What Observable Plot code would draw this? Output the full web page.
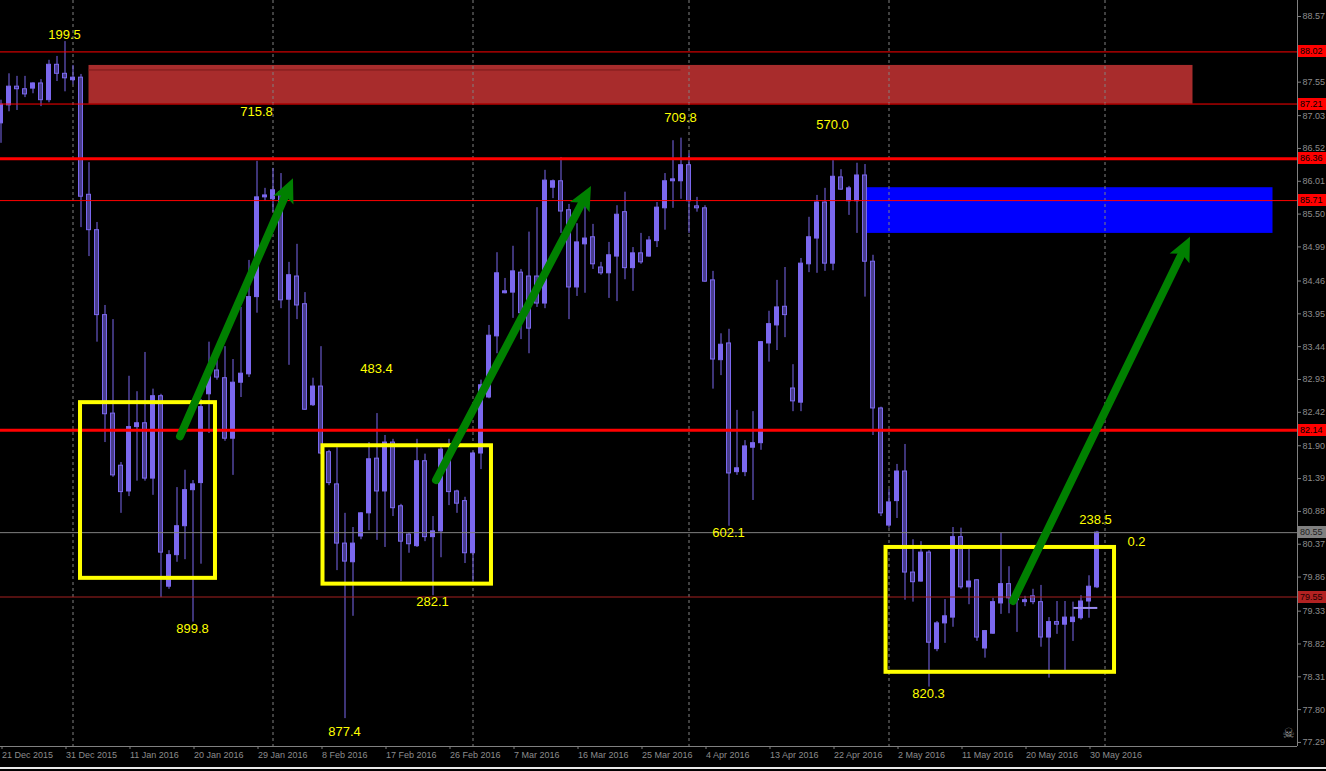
<!DOCTYPE html>
<html><head><meta charset="utf-8">
<script src="https://cdn.jsdelivr.net/npm/d3@7"></script>
<script src="https://cdn.jsdelivr.net/npm/@observablehq/plot@0.6"></script>
<style>
html,body{margin:0;padding:0;background:#000;overflow:hidden;}
#chart{width:1326px;height:766px;}
#edge{height:2px;background:#e8e8e8;margin-top:1px;}
</style></head><body>
<div id="chart"></div><div id="edge"></div>
<script>
// ---- Daily candles (bar index 0 = 21 Dec 2015) ----
const opens = [86.91,87.19,87.48,87.44,87.45,87.53,87.27,87.82,87.68,87.58,
87.62,85.80,85.25,83.93,82.40,81.59,81.19,82.19,82.25,81.39,
82.67,79.71,80.20,80.65,81.21,81.32,82.70,83.07,82.95,82.01,
82.88,83.01,84.21,85.76,85.73,85.84,84.17,84.53,84.10,82.53,
82.82,81.80,81.30,80.38,80.09,80.49,80.85,81.70,81.19,81.95,
80.96,80.52,80.34,81.66,80.48,80.57,81.75,81.19,81.04,80.23,
81.78,82.65,83.60,84.27,84.28,84.59,84.53,84.53,84.11,85.91,
86.01,85.56,84.36,85.03,85.14,84.67,84.58,84.84,85.53,84.66,
84.89,84.84,85.08,85.59,86.01,86.01,86.26,85.62,85.59,84.47,
83.23,83.49,81.49,81.49,81.87,81.94,83.49,83.77,84.06,82.79,
82.57,84.72,85.12,85.68,84.73,86.07,85.70,85.70,86.10,84.76,
82.48,80.66,81.04,81.50,79.93,79.79,80.24,78.74,79.14,79.23,
80.48,79.70,79.81,78.75,78.98,79.45,79.75,79.54,79.47,79.56,
79.47,78.92,79.16,79.12,79.16,79.22,79.48,79.70];
const highs = [87.27,87.68,87.64,87.64,87.54,87.59,87.89,87.95,88.18,87.81,
87.67,86.30,85.37,84.08,83.86,81.64,82.98,82.74,83.35,82.78,
82.70,80.27,81.25,81.52,81.36,82.62,83.51,83.23,83.44,83.24,
84.05,84.78,86.32,85.90,86.21,86.13,84.75,85.03,84.28,82.95,
83.44,81.83,81.87,80.85,80.63,80.86,81.95,82.40,82.06,82.00,
80.99,80.55,82.00,81.77,80.80,81.87,82.00,81.21,81.10,81.80,
82.92,83.77,84.90,84.50,85.00,84.64,85.22,85.60,86.18,86.03,
86.38,85.65,85.35,85.71,85.34,84.75,85.06,85.63,85.84,84.98,
85.20,85.15,85.68,86.13,86.64,86.68,86.44,85.76,85.63,84.61,
83.64,83.71,82.45,81.98,82.43,83.52,83.99,84.47,84.67,83.16,
84.81,85.45,85.79,85.90,86.33,86.19,85.93,86.29,86.27,84.86,
82.50,81.22,81.61,81.92,80.44,80.41,80.27,79.17,79.51,80.63,
80.62,80.29,79.82,79.03,79.53,80.54,80.02,79.65,79.56,79.67,
79.73,79.23,79.48,79.48,79.47,79.57,79.88,80.57];
const lows = [86.60,87.09,87.11,87.31,87.37,87.17,87.23,87.56,87.40,87.51,
85.29,84.84,83.51,81.95,81.41,80.85,81.11,81.35,81.35,81.13,
79.54,79.67,80.09,80.13,79.16,80.06,82.09,82.92,81.97,81.44,
82.65,82.96,83.96,85.70,85.53,84.03,83.15,83.86,82.45,82.51,
81.76,81.28,79.96,77.66,79.25,80.44,80.58,80.43,80.32,80.80,
79.79,80.23,80.32,80.41,79.57,80.16,80.97,80.85,80.07,79.78,
81.53,82.63,83.33,84.26,83.88,83.55,83.33,84.05,84.03,85.74,
85.20,83.86,84.22,84.27,84.64,84.55,84.19,84.14,84.48,84.30,
84.72,84.83,84.98,85.25,85.59,85.73,85.20,85.53,84.44,82.78,
82.99,80.65,81.44,81.42,81.05,81.83,83.20,83.38,83.58,82.43,
82.43,84.59,84.58,84.61,84.62,85.87,85.48,85.20,84.21,82.06,
80.80,80.62,80.77,79.50,79.47,79.78,78.15,78.70,78.83,79.08,
79.67,79.43,78.86,78.60,78.97,79.28,79.29,79.00,79.40,79.43,
78.77,78.29,78.97,78.41,78.86,79.19,79.22,79.68];
const closes = [87.20,87.48,87.44,87.36,87.53,87.27,87.82,87.68,87.61,87.62,
85.77,85.25,83.93,82.39,81.44,81.18,82.19,82.25,81.39,82.67,
80.24,80.20,80.65,81.21,81.30,82.50,83.07,82.96,82.01,82.88,
83.02,84.21,85.76,85.79,85.87,84.16,84.55,84.08,82.46,82.82,
81.78,81.32,80.38,80.10,80.38,80.85,81.69,81.19,81.95,80.93,
80.41,80.37,81.66,80.48,80.57,81.84,81.18,81.00,80.23,81.78,
82.84,83.61,84.58,84.30,84.61,83.96,83.72,84.11,86.02,86.01,
85.54,84.36,85.06,85.12,84.72,84.58,84.86,85.49,84.66,84.89,
84.75,85.09,85.60,86.01,86.04,86.26,85.70,85.59,84.45,83.24,
83.47,81.47,81.55,81.89,81.94,83.51,83.79,84.05,83.93,82.59,
84.73,85.14,85.68,84.73,86.08,85.88,85.90,86.10,84.76,82.48,
80.85,81.02,81.50,79.93,79.78,80.24,78.84,79.14,79.25,80.48,
79.70,79.79,78.92,79.02,79.47,79.75,79.53,79.50,79.50,79.47,
78.92,79.16,79.12,79.23,79.23,79.48,79.71,80.55];

// ---- Axis ticks ----
const dateBars = [0,8,16,24,32,40,48,56,64,72,80,88,96,104,112,120,128,136];
const dateLabels = ["21 Dec 2015","31 Dec 2015","11 Jan 2016","20 Jan 2016","29 Jan 2016","8 Feb 2016","17 Feb 2016","26 Feb 2016","7 Mar 2016","16 Mar 2016","25 Mar 2016","4 Apr 2016","13 Apr 2016","22 Apr 2016","2 May 2016","11 May 2016","20 May 2016","30 May 2016"];
const monthBars = [9,34,59,86,111,138];
const yTicks = [88.57,87.55,87.03,86.52,86.01,85.50,84.99,84.46,83.95,83.44,82.93,82.42,81.90,81.39,80.88,80.37,79.86,79.33,78.82,78.31,77.80,77.29];
const xDomain = [-0.0625, 162.0625];
const yDomain = [77.227, 88.819];

// ---- Horizontal levels ----
const redThinLevels = [88.02, 87.21, 85.71];
const redThickLevels = [86.36, 82.14];
const bidLevel = [80.55];
const supportLevel = [79.55];
const redTagLevels = [88.02, 87.21, 86.36, 85.71, 82.14];

// ---- Zones ----
const zoneName  = ["supply", "target"];
const zoneStart = [11, 108.2];
const zoneEnd   = [149, 159];
const zoneLow   = [87.21, 85.20];
const zoneHigh  = [87.81, 85.91];
const innerEdgeLevel = [87.74], innerEdgeFrom = [11], innerEdgeTo = [85];

// ---- Yellow boxes ----
const boxStart = [9.94, 40.25, 110.63];
const boxEnd   = [26.81, 61.31, 139.19];
const boxTop   = [82.57, 81.90, 80.32];
const boxBottom= [79.84, 79.75, 78.38];

// ---- Green arrows ----
const arrowFromBar = [22.44, 54.44, 126.56];
const arrowFromPrice = [82.04, 81.36, 79.48];
const arrowToBar = [36.56, 73.81, 148.69];
const arrowToPrice = [86.05, 85.93, 85.14];

// ---- Yellow notes ----
const noteText  = ["199.5","715.8","709.8","570.0","483.4","899.8","282.1","877.4","602.1","820.3","238.5","0.2"];
const noteBar   = [7.94,31.94,84.94,103.94,46.94,23.94,53.94,42.94,90.94,115.94,136.81,141.94];
const notePrice = [88.29,87.09,86.99,86.89,83.09,79.06,79.47,77.45,80.54,78.05,80.75,80.41];

// ---- Current price marker ----
const markerLevel = [79.38], markerFrom = [134.1], markerTo = [137.1];

const candles = opens.map((o, i) => ({i, o, h: highs[i], l: lows[i], c: closes[i]}));
const zones = zoneName.map((n, k) => ({n, x1: zoneStart[k], x2: zoneEnd[k], y1: zoneLow[k], y2: zoneHigh[k]}));
const boxes = boxStart.map((s, k) => ({x1: s, x2: boxEnd[k], y1: boxBottom[k], y2: boxTop[k]}));
const arrows = arrowFromBar.map((b, k) => ({x1: b, y1: arrowFromPrice[k], x2: arrowToBar[k], y2: arrowToPrice[k]}));
const notes = noteText.map((t, k) => ({t, x: noteBar[k], y: notePrice[k]}));

// price tags in the right margin, placed through the y scale
function tagMark(levels, bg, fg) {
  return (index, scales, values, dims) => {
    const g = d3.create("svg:g").attr("text-anchor", "start");
    const x0 = dims.width - dims.marginRight + 1;
    for (const v of levels) {
      const y = Math.round(scales.y(v));
      g.append("rect").attr("x", x0).attr("y", y - 6).attr("width", dims.marginRight).attr("height", 12).attr("fill", bg);
      g.append("text").attr("x", x0 + 2).attr("y", y).attr("dy", "0.35em")
        .attr("fill", fg).attr("font-size", 9).attr("text-anchor", "start").text(v.toFixed(2));
    }
    return g.node();
  };
}

// thick arrows with filled heads, placed through the x and y scales
function arrowMark(list, color) {
  return (index, scales) => {
    const g = d3.create("svg:g");
    for (const a of list) {
      const x1 = scales.x(a.x1), y1 = scales.y(a.y1), x2 = scales.x(a.x2), y2 = scales.y(a.y2);
      const dx = x2 - x1, dy = y2 - y1, len = Math.hypot(dx, dy), ux = dx / len, uy = dy / len;
      const hl = 24, hw = 11;
      const bx = x2 - ux * hl, by = y2 - uy * hl;
      g.append("line").attr("x1", x1).attr("y1", y1).attr("x2", bx + ux * 3).attr("y2", by + uy * 3)
        .attr("stroke", color).attr("stroke-width", 8).attr("stroke-linecap", "round");
      g.append("path").attr("d", `M${x2},${y2}L${bx - uy * hw},${by + ux * hw}L${bx + ux * 5},${by + uy * 5}L${bx + uy * hw},${by - ux * hw}Z`)
        .attr("fill", color);
    }
    return g.node();
  };
}

const FONT = "'Liberation Sans', Arial, sans-serif";
const purple = "#7b68ee";

const chart = Plot.plot({
  width: 1326, height: 766,
  marginTop: 0, marginBottom: 20, marginLeft: 0, marginRight: 29,
  x: {domain: xDomain, axis: null},
  y: {domain: yDomain, axis: null},
  style: {background: "#000", color: "#8c8c8c", fontFamily: FONT, fontSize: "9px"},
  marks: [
    Plot.rect(zones, {x1: "x1", x2: "x2", y1: "y1", y2: "y2", fill: d => d.n === "supply" ? "#a82c2c" : "#0000ff"}),
    Plot.ruleY(innerEdgeLevel, {x1: () => innerEdgeFrom[0], x2: () => innerEdgeTo[0], stroke: "#7a1a1a"}),
    Plot.ruleX(monthBars, {stroke: "#808080", strokeDasharray: "3,3"}),
    Plot.ruleX(candles, {x: "i", y1: "l", y2: "h", stroke: purple}),
    Plot.rect(candles, {
      x1: d => d.i - 0.25, x2: d => d.i + 0.25,
      y1: d => Math.min(d.o, d.c), y2: d => Math.max(d.o, d.c),
      fill: d => d.c >= d.o ? "#7b68ee" : "#483d8b", stroke: purple
    }),
    Plot.ruleY(redThinLevels, {stroke: "#ff0000"}),
    Plot.ruleY(redThickLevels, {stroke: "#ff0000", strokeWidth: 3}),
    Plot.ruleY(bidLevel, {stroke: "#808080"}),
    Plot.ruleY(supportLevel, {stroke: "#a52020"}),
    Plot.ruleY(markerLevel, {x1: () => markerFrom[0], x2: () => markerTo[0], stroke: "#9a8cf0", strokeWidth: 2}),
    Plot.rect(boxes, {x1: "x1", x2: "x2", y1: "y1", y2: "y2", fill: "none", stroke: "#ffff00", strokeWidth: 4}),
    arrowMark(arrows, "#008000"),
    Plot.text(notes, {x: "x", y: "y", text: "t", fill: "#ffff00", fontSize: 13, fontFamily: FONT}),
    Plot.text(["☠"], {x: () => 160.94, y: () => 77.43, fill: "#9a9a9a", fontSize: 14, fontFamily: "DejaVu Sans"}),
    Plot.ruleY([yDomain[0]], {stroke: "#808080"}),
    Plot.ruleX([xDomain[1]], {stroke: "#808080"}),
    Plot.axisX({ticks: dateBars, tickFormat: d => dateLabels[dateBars.indexOf(d)], tickSize: 3, tickPadding: 2,
      textAnchor: "start", dx: 1, label: null, fontSize: 9, stroke: "#808080", fill: "#8c8c8c"}),
    Plot.axisY({anchor: "right", ticks: yTicks, tickFormat: d => d.toFixed(2), tickSize: 3, tickPadding: 2,
      label: null, fontSize: 9, stroke: "#808080", fill: "#8c8c8c"}),
    tagMark(redTagLevels, "#ff0000", "#000"),
    tagMark(bidLevel, "#808080", "#202020"),
    tagMark(supportLevel, "#b22222", "#200000")
  ]
});
document.getElementById("chart").appendChild(chart);
</script>
</body></html>
